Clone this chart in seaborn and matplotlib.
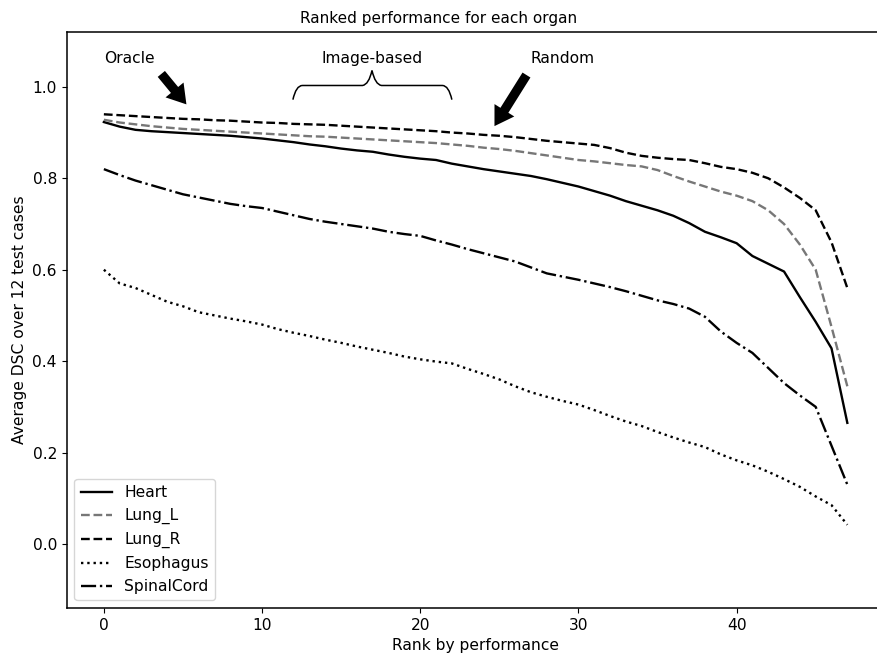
import numpy as np
import pandas as pd
import matplotlib
matplotlib.use("Agg")
import matplotlib.pyplot as plt
from matplotlib.path import Path
from matplotlib.patches import PathPatch
import seaborn as sns

# Average DSC per method, sorted from best to worst, one list per organ
heart = [0.923, 0.913, 0.906, 0.903, 0.901, 0.899, 0.897, 0.895, 0.893, 0.890,
         0.887, 0.883, 0.879, 0.874, 0.870, 0.865, 0.861, 0.858, 0.852, 0.847,
         0.843, 0.840, 0.832, 0.826, 0.820, 0.815, 0.810, 0.805, 0.798, 0.790,
         0.782, 0.772, 0.762, 0.750, 0.740, 0.730, 0.718, 0.702, 0.683, 0.671,
         0.658, 0.630, 0.613, 0.596, 0.540, 0.486, 0.428, 0.265]
lung_l = [0.928, 0.922, 0.918, 0.914, 0.911, 0.908, 0.906, 0.904, 0.902, 0.900,
          0.898, 0.896, 0.894, 0.892, 0.891, 0.889, 0.887, 0.885, 0.883, 0.881,
          0.879, 0.877, 0.874, 0.871, 0.867, 0.864, 0.860, 0.855, 0.850, 0.845,
          0.840, 0.837, 0.833, 0.829, 0.826, 0.818, 0.805, 0.793, 0.782, 0.771,
          0.762, 0.750, 0.730, 0.700, 0.655, 0.600, 0.475, 0.345]
lung_r = [0.940, 0.938, 0.936, 0.934, 0.932, 0.930, 0.929, 0.927, 0.926, 0.924,
          0.922, 0.921, 0.919, 0.918, 0.917, 0.915, 0.913, 0.911, 0.909, 0.907,
          0.905, 0.903, 0.900, 0.898, 0.895, 0.893, 0.890, 0.886, 0.882, 0.879,
          0.876, 0.873, 0.866, 0.856, 0.849, 0.845, 0.842, 0.840, 0.833, 0.825,
          0.820, 0.812, 0.800, 0.780, 0.757, 0.730, 0.660, 0.560]
esophagus = [0.600, 0.570, 0.560, 0.545, 0.530, 0.520, 0.507, 0.500, 0.493, 0.487,
             0.480, 0.470, 0.462, 0.455, 0.447, 0.440, 0.432, 0.425, 0.418, 0.410,
             0.404, 0.399, 0.395, 0.383, 0.372, 0.360, 0.345, 0.332, 0.322, 0.313,
             0.305, 0.293, 0.280, 0.268, 0.258, 0.245, 0.233, 0.222, 0.212, 0.196,
             0.183, 0.172, 0.158, 0.142, 0.125, 0.104, 0.085, 0.042]
spinal_cord = [0.820, 0.807, 0.795, 0.785, 0.775, 0.765, 0.758, 0.751, 0.744, 0.739,
               0.735, 0.727, 0.719, 0.711, 0.705, 0.700, 0.695, 0.690, 0.683, 0.678,
               0.674, 0.664, 0.655, 0.645, 0.636, 0.627, 0.618, 0.605, 0.592, 0.585,
               0.578, 0.570, 0.562, 0.553, 0.543, 0.533, 0.525, 0.515, 0.497, 0.465,
               0.440, 0.418, 0.385, 0.352, 0.325, 0.300, 0.215, 0.130]

organs = ["Heart", "Lung_L", "Lung_R", "Esophagus", "SpinalCord"]
series = [heart, lung_l, lung_r, esophagus, spinal_cord]
ranks = list(range(len(heart)))

colors = {"Heart": "black", "Lung_L": "#777777", "Lung_R": "black",
          "Esophagus": "black", "SpinalCord": "black"}
styles = {"Heart": "-", "Lung_L": "--", "Lung_R": "--",
          "Esophagus": ":", "SpinalCord": "-."}

df = pd.DataFrame({"rank": ranks * len(organs),
                   "dsc": [v for s in series for v in s],
                   "organ": [o for o in organs for _ in ranks]})

FS = 11.2
plt.rcParams.update({"font.size": FS, "xtick.labelsize": FS, "ytick.labelsize": FS,
                     "axes.linewidth": 1.1})

fig = plt.figure(figsize=(8.78, 6.59), dpi=100)
ax = fig.add_axes([66.7 / 878, 51 / 659, 817.8 / 878, 576 / 659])

for organ in organs:
    sub = df[df["organ"] == organ]
    sns.lineplot(data=sub, x="rank", y="dsc", ax=ax, color=colors[organ],
                 linestyle=styles[organ], linewidth=1.7, label=organ)

ax.set_xlim(-2.35, 49.35)
ax.set_ylim(-0.14, 1.12)
ax.set_xticks([0, 10, 20, 30, 40])
ax.set_yticks([0.0, 0.2, 0.4, 0.6, 0.8, 1.0])
ax.set_xlabel("Rank by performance", fontsize=FS)
ax.set_ylabel("Average DSC over 12 test cases", fontsize=FS)
fig.suptitle("Ranked performance for each organ", fontsize=11.0, x=0.5,
             y=1 - 18 / 659, va="center")
ax.legend(loc="lower left", fontsize=FS)

# Annotations for the groups of methods
ax.text(1.64, 1.063, "Oracle", ha="center", va="center", fontsize=FS)
ax.text(16.95, 1.063, "Image-based", ha="center", va="center", fontsize=FS)
ax.text(29.0, 1.063, "Random", ha="center", va="center", fontsize=FS)

arrow_style = "simple,head_width=1.5,head_length=1.2,tail_width=0.6"
ax.annotate("", xy=(5.33, 0.957), xytext=(3.52, 1.033),
            arrowprops=dict(arrowstyle=arrow_style, color="black", lw=0))
ax.annotate("", xy=(24.6, 0.909), xytext=(26.81, 1.031),
            arrowprops=dict(arrowstyle=arrow_style, color="black", lw=0))

# Curly brace over the image-based range
x0, xm, x1 = 11.95, 16.95, 22.0
yb, yh, yt = 0.972, 1.003, 1.036
verts = [(x0, yb), (x0 + 0.2, yh), (x0 + 0.6, yh), (x0 + 1.2, yh),
         (xm - 0.6, yh), (xm - 0.2, yh + 0.002), (xm, yt),
         (xm + 0.2, yh + 0.002), (xm + 0.6, yh), (x1 - 1.2, yh),
         (x1 - 0.6, yh), (x1 - 0.2, yh), (x1, yb)]
codes = [Path.MOVETO, Path.CURVE3, Path.CURVE3, Path.LINETO,
         Path.LINETO, Path.CURVE3, Path.CURVE3,
         Path.CURVE3, Path.CURVE3, Path.LINETO,
         Path.LINETO, Path.CURVE3, Path.CURVE3]
ax.add_patch(PathPatch(Path(verts, codes), facecolor="none",
                       edgecolor="black", lw=1.1))

fig.savefig("out.png", dpi=100)
